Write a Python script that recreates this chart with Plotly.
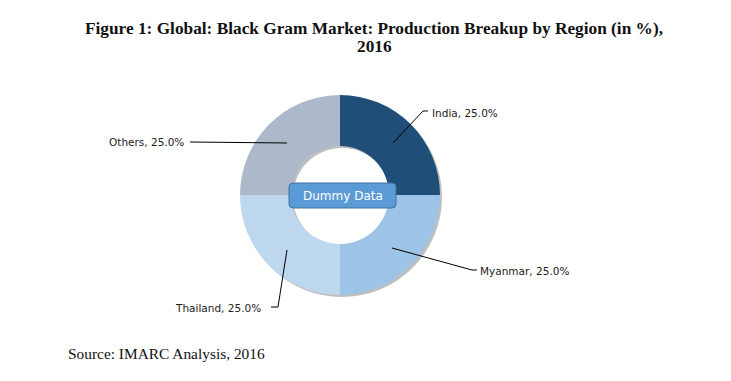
import plotly.graph_objects as go

regions = ["India", "Myanmar", "Thailand", "Others"]
shares = [25.0, 25.0, 25.0, 25.0]
colors = ["#1F4E79", "#9DC3E6", "#BDD7EE", "#ADB9CA"]

# page body has an 8px margin; figure sized to fit inside the window
OFF = 8
W, H = 731 - 2 * OFF, 381 - 2 * OFF

def px(x):
    return (x - OFF) / W

def py(y):
    return 1 - (y - OFF) / H

cx, cy, r = 340, 195, 100
sh = 2  # shadow offset

fig = go.Figure()
fig.add_trace(go.Pie(
    labels=["shadow"], values=[1], sort=False, hole=0.49,
    marker=dict(colors=["rgba(0,0,0,0.25)"], line=dict(width=0)),
    textinfo="none", hoverinfo="skip", showlegend=False,
    domain=dict(x=[px(cx - r + sh), px(cx + r + sh)], y=[py(cy + r + sh), py(cy - r + sh)]),
))
fig.add_trace(go.Pie(
    labels=regions, values=shares, sort=False, direction="clockwise", rotation=0,
    hole=0.49, marker=dict(colors=colors, line=dict(width=0)),
    textinfo="none", hoverinfo="label+percent", showlegend=False,
    domain=dict(x=[px(cx - r), px(cx + r)], y=[py(cy + r), py(cy - r)]),
))

leaders = {
    "India": [(393, 143), (423, 111), (428, 111)],
    "Myanmar": [(392, 248), (472, 270), (477, 270)],
    "Thailand": [(287, 250), (278, 307), (271, 307)],
    "Others": [(287, 143), (190, 142)],
}
label_pos = {
    "India": (430, 113, "left"),
    "Myanmar": (478, 271, "left"),
    "Thailand": (263, 308, "right"),
    "Others": (186, 142, "right"),
}

shapes = []
for name, pts in leaders.items():
    path = "M " + " L ".join(f"{px(x):.5f},{py(y):.5f}" for x, y in pts)
    shapes.append(dict(type="path", xref="paper", yref="paper", path=path,
                       line=dict(color="#000000", width=1)))

# rounded "Dummy Data" box
bx0, bx1, by0, by1, rr = 289, 396, 183, 208, 4
box = (f"M {px(bx0+rr)},{py(by0)} L {px(bx1-rr)},{py(by0)} "
       f"Q {px(bx1)},{py(by0)} {px(bx1)},{py(by0+rr)} L {px(bx1)},{py(by1-rr)} "
       f"Q {px(bx1)},{py(by1)} {px(bx1-rr)},{py(by1)} L {px(bx0+rr)},{py(by1)} "
       f"Q {px(bx0)},{py(by1)} {px(bx0)},{py(by1-rr)} L {px(bx0)},{py(by0+rr)} "
       f"Q {px(bx0)},{py(by0)} {px(bx0+rr)},{py(by0)} Z")
shapes.append(dict(type="path", xref="paper", yref="paper", path=box, layer="above",
                   fillcolor="#5B9BD5", line=dict(color="#41719C", width=1)))

annotations = []
for name, val in zip(regions, shares):
    x, y, anc = label_pos[name]
    annotations.append(dict(x=px(x), y=py(y), xref="paper", yref="paper",
                            text=f"{name}, {val:.1f}%", showarrow=False,
                            xanchor=anc, yanchor="middle",
                            font=dict(family="DejaVu Sans", size=10.5, color="#222222")))

annotations.append(dict(x=px(342.5), y=py(196), xref="paper", yref="paper",
                        text="Dummy Data", showarrow=False, xanchor="center", yanchor="middle",
                        font=dict(family="DejaVu Sans", size=12, color="#FFFFFF")))

title_lines = ["Figure 1: Global: Black Gram Market: Production Breakup by Region (in %),", "2016"]
for line, ty in zip(title_lines, [28, 46]):
    annotations.append(dict(x=px(374), y=py(ty), xref="paper", yref="paper",
                            text=f"<b>{line}</b>", showarrow=False,
                            xanchor="center", yanchor="middle",
                            font=dict(family="Liberation Serif", size=17.3, color="#111111")))

annotations.append(dict(x=px(66), y=py(353), xref="paper", yref="paper",
                        text="Source: IMARC Analysis, 2016", showarrow=False,
                        xanchor="left", yanchor="middle",
                        font=dict(family="Liberation Serif", size=15.4, color="#111111")))

fig.update_layout(width=W, height=H, margin=dict(l=0, r=0, t=0, b=0),
                  paper_bgcolor="white", plot_bgcolor="white",
                  shapes=shapes, annotations=annotations)

fig.write_html("out.html")
